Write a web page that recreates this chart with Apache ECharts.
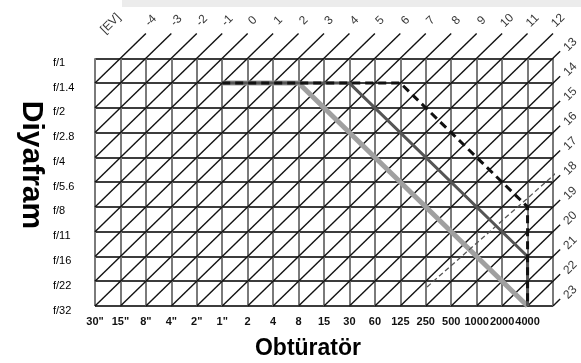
<!DOCTYPE html>
<html>
<head>
<meta charset="utf-8">
<script src="https://cdn.jsdelivr.net/npm/echarts@6/dist/echarts.min.js"></script>
<style>
  html, body { margin: 0; padding: 0; background: #fff; }
  #chart { width: 581px; height: 363px; }
</style>
</head>
<body>
<div id="chart"></div>
<script>
// Shutter speeds along the bottom (one column each) and apertures down the side
const shutterLabels = ['30"', '15"', '8"', '4"', '2"', '1"', '2', '4', '8', '15', '30', '60', '125', '250', '500', '1000', '2000', '4000'];
const fStops = ['f/1', 'f/1.4', 'f/2', 'f/2.8', 'f/4', 'f/5.6', 'f/8', 'f/11', 'f/16', 'f/22', 'f/32'];

// Exposure values drawn as diagonals; EV at the 30" / f/1 corner
const evOrigin = -5;
const evValues = [-4, -3, -2, -1, 0, 1, 2, 3, 4, 5, 6, 7, 8, 9, 10, 11, 12,
                  13, 14, 15, 16, 17, 18, 19, 20, 21, 22, 23];

// Program curves as [shutter column, aperture row]
const programLight = [[5, 1], [8, 1], [17, 10]];
const programDark = [[5, 1], [10, 1], [17, 8], [17, 10]];
const programDashed = [[5, 1], [12, 1], [17, 6], [17, 10]];
const limitLine = [[13.05, 9.23], [19.06, 3.78]];

const nCols = 18, nRows = 10;
const topExt = 1.0;     // diagonals run on one cell past the top edge
const sideExt = 0.28;   // and only a short way past the right edge

// Build each EV diagonal from its value: column + row = EV - evOrigin
const diagonals = [];
const evLabels = [];
evValues.forEach(function (ev) {
  const s = ev - evOrigin;
  const start = s <= nRows ? [0, s] : [s - nRows, nRows];
  let end, labelPos;
  if (s < nCols) {
    end = [s + topExt, -topExt];
    labelPos = [s + topExt + 0.2, -topExt - 0.52];
  } else {
    end = [nCols + sideExt, s - nCols - sideExt];
    labelPos = [nCols + 0.68, s - nCols - 0.55];
  }
  diagonals.push({ coords: [start, end] });
  evLabels.push([labelPos[0], labelPos[1], String(ev)]);
});
evLabels.push([0.62, -1.4, '[EV]']);

const font = '"Liberation Sans", Arial, sans-serif';

const chart = echarts.init(document.getElementById('chart'), null, { renderer: 'canvas' });
chart.setOption({
  backgroundColor: '#ffffff',
  animation: false,
  grid: { left: 95, right: 28, top: 58.3, bottom: 57, containLabel: false },
  xAxis: {
    type: 'value', min: 0, max: nCols, interval: 1,
    axisLine: { show: false }, axisTick: { show: false },
    splitLine: { show: true, lineStyle: { color: '#7a7a7a', width: 2 } },
    axisLabel: {
      margin: 10, fontFamily: font, fontSize: 11, fontWeight: 'bold', color: '#111',
      formatter: function (v) { return shutterLabels[v] || ''; }
    }
  },
  yAxis: {
    type: 'value', min: 0, max: nRows, interval: 1, inverse: true,
    axisLine: { show: false }, axisTick: { show: false },
    splitLine: { show: true, lineStyle: { color: '#3c3c3c', width: 2 } },
    axisLabel: {
      margin: 42, align: 'left', verticalAlign: 'top', lineHeight: 9,
      fontFamily: font, fontSize: 11, color: '#000',
      formatter: function (v) { return fStops[v] || ''; }
    }
  },
  graphic: [
    { type: 'rect', shape: { x: 122, y: 0, width: 459, height: 7 }, style: { fill: '#ececec' }, z: -1 },
    { type: 'text', x: 308, y: 349, style: { text: 'Obtüratör', font: 'bold 23px ' + font, fill: '#000', align: 'center', verticalAlign: 'middle' } },
    { type: 'text', x: 31, y: 165, rotation: -Math.PI / 2, style: { text: 'Diyafram', font: 'bold 30px ' + font, fill: '#000', align: 'center', verticalAlign: 'middle' } }
  ],
  series: [
    {
      type: 'lines', coordinateSystem: 'cartesian2d', clip: false, silent: true,
      lineStyle: { color: '#111', width: 1.4, opacity: 1 },
      data: diagonals, z: 3
    },
    {
      type: 'line', data: programLight, clip: false, symbol: 'none', silent: true,
      lineStyle: { color: '#a0a0a0', width: 5 }, z: 4
    },
    {
      type: 'line', data: programDark, clip: false, symbol: 'none', silent: true,
      lineStyle: { color: '#555555', width: 3 }, z: 5
    },
    {
      type: 'line', data: programDashed, clip: false, symbol: 'none', silent: true,
      lineStyle: { color: '#111', width: 3, type: [8, 5] }, z: 6
    },
    {
      type: 'line', data: limitLine, clip: false, symbol: 'none', silent: true,
      lineStyle: { color: '#555', width: 1.3, type: [5, 3] }, z: 6
    },
    {
      type: 'scatter', data: evLabels, symbolSize: 0, clip: false, silent: true,
      label: {
        show: true, rotate: 45, fontFamily: font, fontSize: 12, color: '#000',
        formatter: function (p) { return p.data[2]; }
      }, z: 7
    }
  ]
});
</script>
</body>
</html>
